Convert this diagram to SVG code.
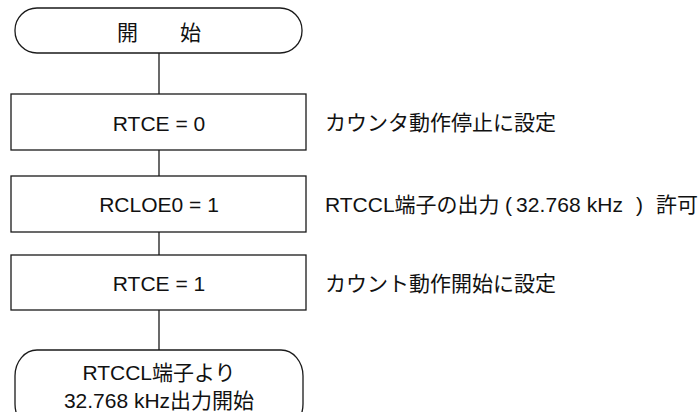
<svg xmlns="http://www.w3.org/2000/svg" width="698" height="412" viewBox="0 0 698 412">
<style>
.shape{fill:#fff;stroke:#1a1a1a;stroke-width:1.3}
.conn{stroke:#1a1a1a;stroke-width:1.3;fill:none}
text{font-family:"Liberation Sans","Noto Sans CJK JP",sans-serif;font-size:21px;fill:#111}
.c{text-anchor:middle}
</style>
<rect width="698" height="412" fill="#fff"/>
<g id="connectors">
<line class="conn" x1="159" y1="53" x2="159" y2="94"/>
<line class="conn" x1="159" y1="150" x2="159" y2="176"/>
<line class="conn" x1="159" y1="232" x2="159" y2="255"/>
<line class="conn" x1="159" y1="310" x2="159" y2="350"/>
</g>
<g id="start">
<rect class="shape" x="15" y="8" width="287" height="45" rx="22" ry="22"/>
<text class="c" x="159" y="40">開　　始</text>
</g>
<g id="step1">
<rect class="shape" x="11" y="94" width="295" height="56"/>
<text class="c" x="159" y="131">RTCE = 0</text>
<text x="325" y="130">カウンタ動作停止に設定</text>
</g>
<g id="step2">
<rect class="shape" x="11" y="176" width="295" height="56"/>
<text class="c" x="159" y="212">RCLOE0 = 1</text>
<text y="212"><tspan x="325">RTCCL端子の出力</tspan><tspan x="505">(</tspan><tspan x="516" textLength="107" lengthAdjust="spacing">32.768 kHz</tspan><tspan x="636">)</tspan><tspan x="656">許可</tspan></text>
</g>
<g id="step3">
<rect class="shape" x="11" y="255" width="295" height="55"/>
<text class="c" x="159" y="291">RTCE = 1</text>
<text x="325" y="291">カウント動作開始に設定</text>
</g>
<g id="end">
<rect class="shape" x="15" y="350" width="288" height="80" rx="22" ry="26"/>
<text class="c" x="159" y="380">RTCCL端子より</text>
<text class="c" x="159" y="408">32.768 kHz出力開始</text>
</g>
</svg>
